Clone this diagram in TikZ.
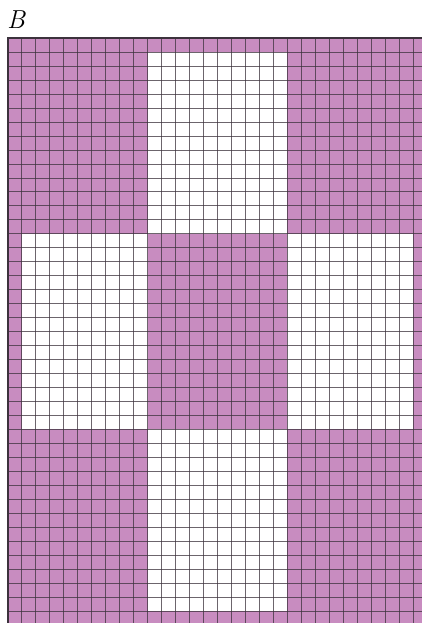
\documentclass[tikz,border=0pt]{standalone}
\usepackage{tikz}
\definecolor{gridpink}{RGB}{200,140,192}
\definecolor{gridink}{RGB}{60,50,60}
\tikzset{
  pinkarea/.style={fill=gridpink, draw=none},
  whitearea/.style={fill=white, draw=none},
  gridline/.style={draw=gridink, draw opacity=0.75, line width=0.8pt},
  borderline/.style={draw=gridink, line width=1.6pt},
  lbl/.style={font=\fontsize{26}{26}\selectfont\itshape, inner sep=0pt, anchor=base west}
}
\begin{document}
\begin{tikzpicture}[x=1pt,y=-1pt]
\useasboundingbox (0,0) rectangle (422,623);
\fill[white] (0,0) rectangle (422,623);
\node[lbl] (label) at (7,29) {B};
\begin{scope}
\clip (0,0) rectangle (422,623);
\begin{scope}[shift={(7.8pt,-38.2pt)}, x=13.97pt, y=-13.97pt]
  \path[pinkarea] (0,0) rectangle (31,43);
  \path[whitearea] (10,1) rectangle (20,14);
  \path[whitearea] (1,14) rectangle (10,28);
  \path[whitearea] (20,14) rectangle (29,28);
  \path[whitearea] (10,28) rectangle (20,41);
  \foreach \i in {1,...,30} {\draw[gridline] (\i,0) -- (\i,43);}
  \foreach \j in {1,...,42} {\draw[gridline] (0,\j) -- (31,\j);}
  \draw[borderline] (0,43) -- (0,0) -- (31,0);
\end{scope}
\end{scope}
\end{tikzpicture}
\end{document}
